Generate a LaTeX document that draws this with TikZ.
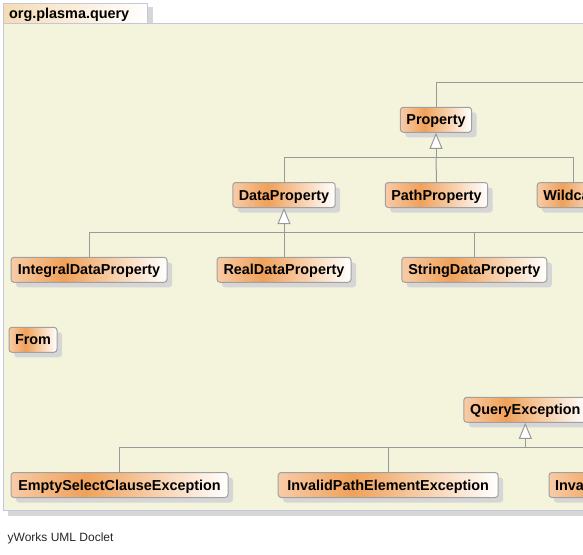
\documentclass[tikz,border=0pt]{standalone}
\usepackage{fontspec}
\setmainfont{Liberation Sans}
\usetikzlibrary{arrows.meta,shadows}
\definecolor{bodybg}{HTML}{F4F4DC}
\definecolor{framebd}{HTML}{C3C6DE}
\definecolor{clsbd}{HTML}{A0A0A0}
\definecolor{edgec}{HTML}{999999}
\definecolor{shadowc}{HTML}{D6D6D6}
\definecolor{shL}{HTML}{F8CBA6}
\definecolor{shM}{HTML}{F0A15A}
\definecolor{tabL}{HTML}{F5DCB5}
\pgfdeclarehorizontalshading{clsshade}{100bp}{color(0bp)=(shL); color(25bp)=(shL); color(42bp)=(shM); color(75bp)=(white); color(100bp)=(white)}
\pgfdeclarehorizontalshading{tabshade}{100bp}{color(0bp)=(tabL); color(25bp)=(tabL); color(75bp)=(white); color(100bp)=(white)}
\tikzset{
  cls/.style={rectangle, rounded corners=3pt, draw=clsbd, line width=1pt,
    shade, shading=clsshade, minimum height=25pt, inner xsep=6pt, inner ysep=0pt,
    text height=11.5pt, text depth=1.5pt,
    font=\bfseries\fontsize{14.4}{16}\selectfont,
    drop shadow={shadow xshift=5pt, shadow yshift=-5pt, fill=shadowc, opacity=1}},
  edge/.style={draw=edgec, line width=1pt},
  inh/.style={-{Triangle[length=16pt, width=13pt, fill=white]}}
}
\begin{document}
\begin{tikzpicture}[x=1pt,y=-1pt]
\useasboundingbox (0,0) rectangle (583,554);
\clip (0,0) rectangle (583,554);
% package frame
\fill[shadowc] (8,505) rectangle (600,516);
\fill[shadowc] (147,7) rectangle (152.5,23.3);
\fill[bodybg] (3,23.3) rectangle (600,510.7);
\draw[framebd, line width=1pt] (600,510.7) -- (3,510.7) -- (3,23.3) -- (600,23.3);
\shade[shading=tabshade, draw=framebd, line width=1pt] (3,3) rectangle (147,23.3);
\node[anchor=base west, font=\bfseries\fontsize{14.4}{16}\selectfont, inner sep=0pt] (title) at (9,18) {org.plasma.query};

% classes
\node[cls, minimum width=70pt] (prop) at (436,119.8) {Property};
\node[cls, minimum width=101pt] (path) at (436.5,195) {PathProperty};
\node[cls, minimum width=73pt] (wild) at (573.7,195) {Wildcard};
\node[cls, minimum width=102pt] (data) at (284,195) {DataProperty};
\node[cls, minimum width=156pt] (integral) at (89,269.8) {IntegralDataProperty};
\node[cls, minimum width=134pt] (real) at (284,269.8) {RealDataProperty};
\node[cls, minimum width=145pt] (string) at (474.3,269.8) {StringDataProperty};
\node[cls, minimum width=44pt] (from) at (33,339.8) {From};
\node[cls, minimum width=123pt] (qexc) at (525.3,409.8) {QueryException};
\node[cls, minimum width=217pt] (empty) at (119.5,485) {EmptySelectClauseException};
\node[cls, minimum width=220pt] (invpath) at (388.2,485) {InvalidPathElementException};
\node[cls, anchor=west, text width=148pt, align=left] (inva) at (548.5,485) {Inva};

% connectors
\coordinate (pj) at (436,157.7);
\coordinate (ptop) at (590,82.3);
\draw[edge] (prop.north) |- (ptop);
\draw[edge] (data.north) |- (pj);
\draw[edge] (path.north) -- (pj);
\draw[edge] (wild.north) |- (pj);
\draw[edge, inh] (pj) -- (prop.south);

\coordinate (dj) at (284,232.3);
\coordinate (dmore) at (590,232.3);
\draw[edge] (integral.north) |- (dj);
\draw[edge] (real.north) -- (dj);
\draw[edge] (string.north) |- (dj);
\draw[edge] (dj) -- (dmore);
\draw[edge, inh] (dj) -- (data.south);

\coordinate (qj) at (525.3,447.3);
\draw[edge] (empty.north) |- (qj);
\draw[edge] (invpath.north) |- (qj);
\draw[edge] (inva.north) |- (qj);
\draw[edge, inh] (qj) -- (qexc.south);

% footer
\node[anchor=base west, font=\fontsize{12}{14}\selectfont, text=black!85, inner sep=0pt] (footer) at (7.5,541.7) {yWorks UML Doclet};
\end{tikzpicture}
\end{document}
